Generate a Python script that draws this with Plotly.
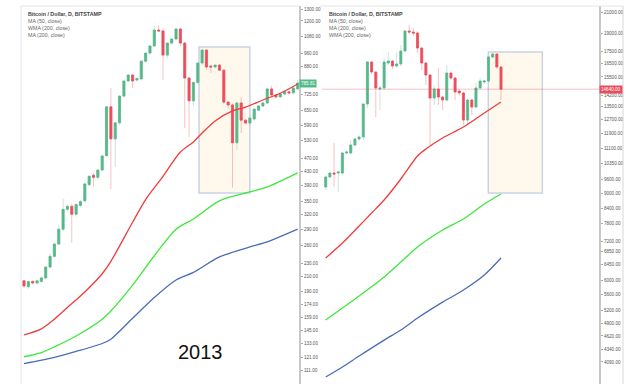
import numpy as np
import plotly.graph_objects as go

W, H = 640, 384

# ---------------- data: left panel (2013) ----------------
left_idx = list(range(64))
left_open = [204,196,203,201,203,208,224,241,262,290,
             332,339,321,341,352,393,419,413,434,479,
             668,537,599,719,797,830,802,808,912,964,
             1012,1128,1121,951,1032,1061,1136,1032,813,696,
             789,901,984,882,877,888,858,690,677,523,
             686,610,598,615,653,672,686,755,724,715,
             729,740,735,755]
left_high = [205,204,205,206,210,226,246,264,298,357,
             343,345,346,354,398,419,424,437,480,671,
             760,602,722,799,832,835,814,916,966,1015,
             1160,1164,1143,1035,1066,1143,1141,1040,819,795,
             905,991,987,888,891,894,863,696,683,691,
             711,615,621,660,676,691,763,773,730,732,
             745,745,763,804]
left_low = [194,193,199,199,202,206,222,239,260,286,
            328,264,316,337,349,389,389,409,430,475,
            381,443,590,712,792,760,794,799,902,953,
            1005,1113,802,933,1020,1051,1010,578,543,672,
            779,892,861,841,871,853,681,660,385,498,
            559,594,589,609,650,666,681,712,707,710,
            724,727,727,751]
left_close = [197,203,201,204,208,224,241,262,290,332,
              339,321,343,350,395,416,413,434,478,668,
              537,599,719,797,830,797,811,912,964,1012,
              1128,1121,951,1032,1061,1136,1032,813,696,789,
              901,984,877,877,888,858,690,677,523,686,
              610,598,619,658,672,686,755,724,715,729,
              740,735,760,785.81]

left_ma50_idx = [0,4,7,10,14,18,20,25,28,32,36,39,41,44,48,51,55,59,63]
left_ma50 = [141,147,157,170,189,214,233,304,355,416,491,526,559,607,650,667,700,733,781]
left_wma200_idx = [0,4,7,12,18,20,25,30,35,39,45,52,56,63]
left_wma200 = [121.5,125,130,140,157,166,198,242,290,311,352,374,387,426]
left_ma200_idx = [0,7,12,18,20,25,30,35,39,45,52,56,63]
left_ma200 = [116,121,126,133,137,158,182,205,216,240,257,266,290]

left_ticks = [1300,1200,1080,960,880,725,650,590,530,470,430,390,350,320,290,
              260,230,210,190,174,159,145,133,121,111]
left_last = 785.81
left_box = dict(x0=40.3, x1=52.0, y0=371, y1=1005)

# ---------------- data: right panel ----------------
right_idx = list(range(43))
right_open = [9267,9711,9894,9894,9894,10863,10863,11276,11599,11708,
              13659,16622,15864,14652,14721,16545,16701,16315,16468,17500,
              19215,19125,19036,17747,16545,15642,14047,14652,14114,13917,
              15790,15424,14515,14381,12674,13917,13469,14721,15139,15210,
              17016,17256,16240]
right_high = [9801,9940,11382,9990,10920,10990,11543,11650,11800,13700,
              16700,16650,15900,14900,16937,17418,16750,17418,17998,19300,
              19762,19486,19200,17800,16600,15700,14900,16164,14200,16391,
              15900,15500,14600,14450,14000,14000,15070,15424,15300,17100,
              17337,17300,16300]
right_low = [9137,9650,9267,9053,9800,10800,10800,11200,11500,11543,
             13406,15700,12854,13281,14600,16400,16100,16200,16300,17400,
             18900,18800,17337,16012,14928,11276,13595,13595,13281,13800,
             15300,13917,14200,12381,12381,12974,13400,14650,15000,15100,
             16900,16100,13917]
right_close = [9711,9894,9848,9940,10863,10914,11276,11599,11708,13659,
               16622,15864,14721,14721,16622,16701,16315,16468,17500,19215,
               19125,19036,17747,16545,15642,14047,14652,14114,13917,15790,
               15424,14448,14381,12674,13917,13469,14721,15210,15210,17016,
               17256,16240,14640]

right_ma50_idx = [0,4,8,11,14,18,22,24,28,33,38,42]
right_ma50 = [6649,7131,7722,8205,8720,9620,10712,11067,11652,12266,13097,13787]
right_ma200_idx = [0,4,8,14,18,22,28,33,38,42]
right_ma200 = [3812,3994,4205,4531,4748,5023,5412,5725,6141,6649]
right_wma200_idx = [0,4,8,14,18,22,28,33,38,42]
right_wma200 = [4976,5263,5567,6084,6525,7000,7578,7980,8558,8967]

right_ticks = [21000,19000,17500,16500,15500,14200,13500,12700,11900,11100,10350,
               9600,9000,8400,7800,7200,6850,6450,6000,5600,5200,4900,4620,4340,4090]
right_last = 14640
right_box = dict(x0=38.96, x1=51.9, y0=9009, y1=17418)

# ---------------- styling ----------------
UP = '#53b987'
DN = '#eb4d5c'
UP_W = 'rgba(120,170,170,0.35)'
DN_W = 'rgba(235,77,92,0.35)'
RED_MA = '#f23b3b'
GREEN_MA = '#3ee83a'
BLUE_MA = '#4a6cb8'


def px(x):
    return x / W


def py(y):
    return 1 - y / H


fig = go.Figure()


def add_candles(x, o, h, l, c, xa, ya):
    fig.add_trace(go.Candlestick(
        x=x, open=o, high=h, low=l, close=c, xaxis=xa, yaxis=ya,
        increasing=dict(line=dict(color=UP_W, width=1), fillcolor='rgba(0,0,0,0)'),
        decreasing=dict(line=dict(color=DN_W, width=1), fillcolor='rgba(0,0,0,0)'),
        whiskerwidth=0, showlegend=False, hoverinfo='skip'))
    top = [max(a, b) for a, b in zip(o, c)]
    bot = [min(a, b) for a, b in zip(o, c)]
    fig.add_trace(go.Candlestick(
        x=x, open=o, high=top, low=bot, close=c, xaxis=xa, yaxis=ya,
        increasing=dict(line=dict(color=UP, width=0.6), fillcolor=UP),
        decreasing=dict(line=dict(color=DN, width=0.6), fillcolor=DN),
        whiskerwidth=0, showlegend=False, hoverinfo='skip'))


def add_line(x, y, color, xa, ya):
    fig.add_trace(go.Scatter(x=x, y=y, mode='lines',
                             line=dict(color=color, width=1.3, shape='spline', smoothing=0.8),
                             xaxis=xa, yaxis=ya, showlegend=False, hoverinfo='skip'))


# left panel
add_line(left_ma200_idx, left_ma200, BLUE_MA, 'x', 'y')
add_line(left_wma200_idx, left_wma200, GREEN_MA, 'x', 'y')
add_candles(left_idx, left_open, left_high, left_low, left_close, 'x', 'y')
add_line(left_ma50_idx, left_ma50, RED_MA, 'x', 'y')

# right panel
add_line(right_ma200_idx, right_ma200, BLUE_MA, 'x2', 'y2')
add_line(right_wma200_idx, right_wma200, GREEN_MA, 'x2', 'y2')
add_candles(right_idx, right_open, right_high, right_low, right_close, 'x2', 'y2')
add_line(right_ma50_idx, right_ma50, RED_MA, 'x2', 'y2')

ydom = [0, py(6)]
tickfont = dict(size=4.6, color='#555555', family='Liberation Sans, Arial, sans-serif')

left_sp = 4.344
right_sp = 4.174


def yaxis_cfg(ticks, lo, hi, anchor):
    return dict(domain=ydom, type='log', range=[np.log10(lo), np.log10(hi)], side='right',
                anchor=anchor, tickvals=ticks, ticktext=[f'{t:.2f}' for t in ticks],
                ticks='outside', ticklen=2, tickcolor='#aaaaaa', tickfont=tickfont,
                showline=True, linecolor='#c8c8c8', linewidth=2, showgrid=False,
                zeroline=False, fixedrange=True)


fig.update_layout(
    width=W, height=H, margin=dict(l=0, r=0, t=0, b=0),
    paper_bgcolor='white', plot_bgcolor='white', showlegend=False,
    boxgap=0.3,
    xaxis=dict(domain=[px(21), px(299)], range=[-3 / left_sp, (299 - 24) / left_sp],
               visible=False, rangeslider=dict(visible=False), anchor='y', fixedrange=True),
    yaxis=yaxis_cfg(left_ticks, 100.9, 1329, 'x'),
    xaxis2=dict(domain=[px(322), px(599)], range=[-3.7 / right_sp, (599 - 325.7) / right_sp],
                visible=False, rangeslider=dict(visible=False), anchor='y2', fixedrange=True),
    yaxis2=yaxis_cfg(right_ticks, 3690, 21597, 'x2'),
)

shapes = []
box_style = dict(type='rect', layer='below', fillcolor='rgba(255,240,212,0.45)',
                 line=dict(color='#c9d2e6', width=1.5))
shapes.append(dict(box_style, xref='x', yref='y', **left_box))
shapes.append(dict(box_style, xref='x2', yref='y2', **right_box))
# current price line on right panel
shapes.append(dict(type='line', xref='paper', yref='y2', x0=px(322), x1=px(599),
                   y0=right_last, y1=right_last, line=dict(color='rgba(235,77,92,0.35)', width=1)))
# frames
frame = dict(color='#e2e4ea', width=1)
shapes.append(dict(type='line', xref='paper', yref='paper', x0=px(21), x1=px(299), y0=py(6), y1=py(6), line=frame))
shapes.append(dict(type='line', xref='paper', yref='paper', x0=px(21), x1=px(21), y0=py(6), y1=0, line=frame))
shapes.append(dict(type='line', xref='paper', yref='paper', x0=px(320), x1=px(623), y0=py(6), y1=py(6), line=frame))
shapes.append(dict(type='line', xref='paper', yref='paper', x0=px(623), x1=px(623), y0=py(6), y1=0,
                   line=dict(color='#d8d8d8', width=1)))
fig.update_layout(shapes=shapes)

ann = []
font_t = 'Liberation Sans, Arial, sans-serif'
for (x0, lines) in [(26, ['<b>Bitcoin / Dollar, D, BITSTAMP</b>', 'MA (50, close)', 'WMA (200, close)', 'MA (200, close)']),
                    (327, ['<b>Bitcoin / Dollar, D, BITSTAMP</b>', 'MA (50, close)', 'MA (200, close)', 'WMA (200, close)'])]:
    for i, t in enumerate(lines):
        ann.append(dict(text=t, xref='paper', yref='paper', x=px(x0), y=py(14 + i * 7),
                        xanchor='left', yanchor='middle', showarrow=False,
                        font=dict(size=5.3, color='#444444' if i == 0 else '#666666', family=font_t)))

ann.append(dict(text=f'{left_last:.2f}', xref='paper', yref='y', x=px(299), y=np.log10(left_last),
                xanchor='left', yanchor='middle', showarrow=False, bgcolor=UP, borderpad=1,
                font=dict(size=4.6, color='white', family=font_t)))
ann.append(dict(text=f'{right_last:.2f}', xref='paper', yref='y2', x=px(599), y=np.log10(right_last),
                xanchor='left', yanchor='middle', showarrow=False, bgcolor=DN, borderpad=1,
                font=dict(size=4.6, color='white', family=font_t)))
ann.append(dict(text='2013', xref='paper', yref='paper', x=px(200), y=py(352), xanchor='center',
                yanchor='middle', showarrow=False, font=dict(size=20, color='#111111', family=font_t)))
fig.update_layout(annotations=ann)

fig.write_html("out.html", config=dict(displayModeBar=False),
               post_script="document.body.style.margin='0';document.body.style.padding='0';")
